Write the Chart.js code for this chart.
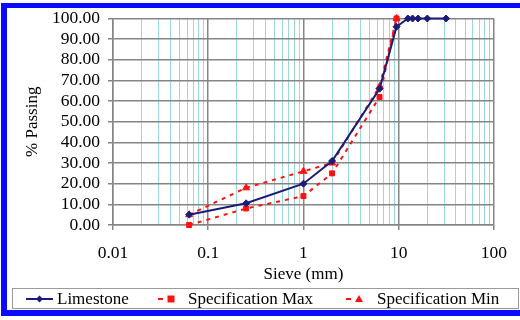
<!DOCTYPE html>
<html>
<head>
<meta charset="utf-8">
<script src="https://cdn.jsdelivr.net/npm/chart.js@4/dist/chart.umd.min.js"></script>
<style>
  html, body { margin: 0; padding: 0; width: 520px; height: 320px; overflow: hidden; background: #fff; }
  #frame { position: absolute; left: 1px; top: 3px; width: 560px; height: 302px;
           border: 6px solid #0a0aff; border-top-width: 5px; border-right: none; }
  #chart { position: absolute; left: 0; top: 0; }
  #legend { position: absolute; left: 12px; top: 288px; width: 505px; height: 19px;
            border: 1px solid #9a9a9a; font: 17px "Liberation Serif", serif; color: #000; }
  #legend span { position: absolute; top: 0; line-height: 20px; white-space: nowrap; }
  #legend canvas { position: absolute; top: 4px; }
</style>
</head>
<body>
<div id="frame"></div>
<canvas id="chart" width="520" height="320"></canvas>
<div id="legend"></div>
<script>
// sieve sizes (mm) and % passing
const sieveSizes = [0.063, 0.25, 1, 2, 6.3, 9.5, 12.5, 14, 16, 20, 31.5];
const limestone = [5, 10.5, 20, 31, 66, 96, 100, 100, 100, 100, 100];
const specSizes = [0.063, 0.25, 1, 2, 6.3, 9.5];
const specMax = [0, 8, 14, 25, 62, 100];
const specMin = [5, 18, 26, 30, 67, 100];
const xMajorTicks = [0.01, 0.1, 1, 10, 100];

const NAVY = '#1b1b78';
const RED = '#ff1010';
const GRID = '#858585';
const MINOR = '#9ad8dc';
const FONT = { family: '"Liberation Serif", serif', size: 17 };
const TICKFONT = { family: '"Liberation Serif", serif', size: 17.5 };

function toPoints(xs, ys) {
    return xs.map((x, i) => ({ x: x, y: ys[i] }));
}

function isDecade(v) {
    let l = Math.log10(v);
    return Math.abs(l - Math.round(l)) < 1e-9;
}

// log grid: 1..9 in each decade
let gridValues = [];
for (let e = -2; e < 2; e++) {
    for (let m = 1; m < 10; m++) {
        gridValues.push(Number((m * Math.pow(10, e)).toPrecision(3)));
    }
}
gridValues.push(100);

let ctx = document.getElementById('chart').getContext('2d');
let chart = new Chart(ctx, {
    type: 'scatter',
    data: {
        datasets: [
            {
                label: 'Limestone',
                data: toPoints(sieveSizes, limestone),
                showLine: true,
                borderColor: NAVY,
                backgroundColor: NAVY,
                borderWidth: 2,
                pointStyle: 'rectRot',
                pointRadius: 3.5,
                pointBorderWidth: 1,
                clip: false
            },
            {
                label: 'Specification Max',
                data: toPoints(specSizes, specMax),
                showLine: true,
                borderColor: RED,
                backgroundColor: RED,
                borderWidth: 2,
                borderDash: [4, 5],
                pointStyle: 'rect',
                pointRadius: 3.5,
                pointBorderWidth: 1,
                clip: false
            },
            {
                label: 'Specification Min',
                data: toPoints(specSizes, specMin),
                showLine: true,
                borderColor: RED,
                backgroundColor: RED,
                borderWidth: 2,
                borderDash: [4, 5],
                pointStyle: 'triangle',
                pointRadius: 4,
                pointBorderWidth: 1,
                clip: false
            }
        ]
    },
    options: {
        responsive: false,
        animation: false,
        layout: { padding: { top: 17, right: 25, bottom: 35, left: 0 } },
        plugins: { legend: { display: false }, tooltip: { enabled: false } },
        scales: {
            x: {
                type: 'logarithmic',
                min: 0.01,
                max: 100,
                afterBuildTicks: function (scale) {
                    scale.ticks = gridValues.map(v => ({ value: v, major: isDecade(v) }));
                },
                afterFit: function (scale) { scale.height = 60; },
                grid: {
                    color: c => (c.tick && isDecade(c.tick.value)) ? GRID : MINOR,
                    lineWidth: c => (c.tick && isDecade(c.tick.value)) ? 1.5 : 1,
                    tickColor: c => (c.tick && isDecade(c.tick.value)) ? GRID : 'rgba(0,0,0,0)',
                    tickLength: 5
                },
                border: { color: GRID, width: 1.5 },
                ticks: {
                    autoSkip: false,
                    maxRotation: 0,
                    padding: 13,
                    color: '#000',
                    font: TICKFONT,
                    callback: v => xMajorTicks.includes(v) ? String(v) : ''
                },
                title: {
                    display: true,
                    text: 'Sieve (mm)',
                    color: '#000',
                    font: FONT,
                    padding: { top: 0, bottom: 0 }
                }
            },
            y: {
                min: 0,
                max: 100,
                afterFit: function (scale) { scale.width = 113; },
                grid: { color: GRID, lineWidth: 1.5, tickLength: 5 },
                border: { color: GRID, width: 1.5 },
                ticks: {
                    autoSkip: false,
                    stepSize: 10,
                    padding: 8,
                    color: '#000',
                    font: TICKFONT,
                    callback: v => v.toFixed(2)
                },
                title: {
                    display: true,
                    text: '% Passing',
                    color: '#000',
                    font: FONT,
                    padding: { top: 22, bottom: 0 }
                }
            }
        }
    }
});

// html legend, built from the datasets
let legendPos = [[13, 27, 44], [145, 20, 175], [333, 20, 364]];
let legend = document.getElementById('legend');
chart.data.datasets.forEach(function (ds, i) {
    let p = legendPos[i];
    let c = document.createElement('canvas');
    c.width = p[1];
    c.height = 12;
    c.style.left = p[0] + 'px';
    let g = c.getContext('2d');
    g.strokeStyle = ds.borderColor;
    g.fillStyle = ds.backgroundColor;
    g.lineWidth = 2;
    let mid = ds.borderDash ? p[1] - 7 : p[1] / 2;
    g.beginPath();
    if (ds.borderDash) {
        g.moveTo(0, 6); g.lineTo(5, 6);
    } else {
        g.moveTo(0, 6); g.lineTo(p[1], 6);
    }
    g.stroke();
    g.beginPath();
    if (ds.pointStyle === 'rectRot') {
        g.moveTo(mid, 2.5); g.lineTo(mid + 3.5, 6); g.lineTo(mid, 9.5); g.lineTo(mid - 3.5, 6);
    } else if (ds.pointStyle === 'rect') {
        g.rect(mid - 3.5, 2.5, 7, 7);
    } else {
        g.moveTo(mid, 2); g.lineTo(mid + 4, 9); g.lineTo(mid - 4, 9);
    }
    g.closePath();
    g.fill();
    legend.appendChild(c);
    let t = document.createElement('span');
    t.textContent = ds.label;
    t.style.left = p[2] + 'px';
    legend.appendChild(t);
});
</script>
</body>
</html>
